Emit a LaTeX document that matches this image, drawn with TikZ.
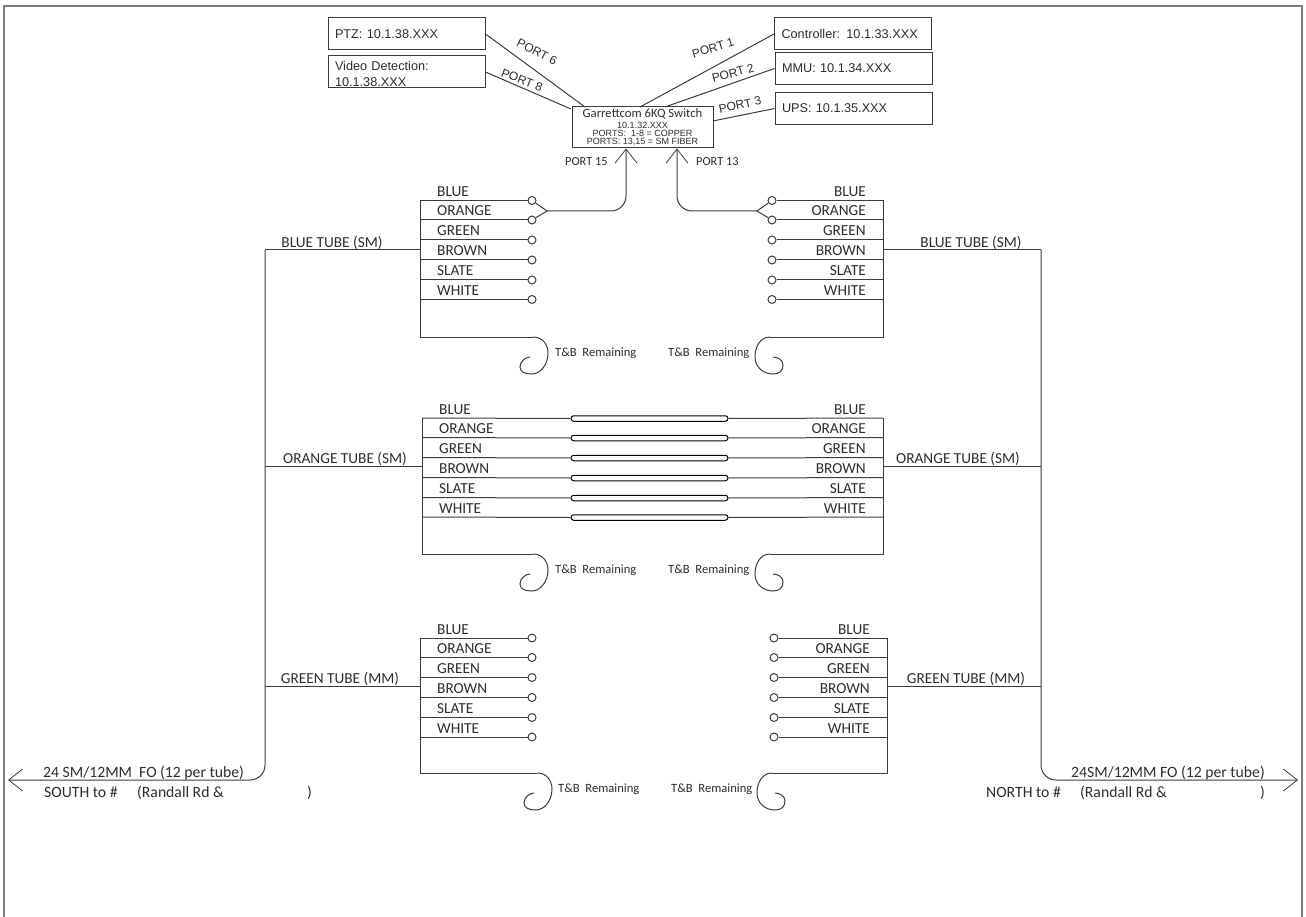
\documentclass[tikz,border=0pt]{standalone}
\usepackage{fontspec}
\setmainfont{Carlito}
\newfontfamily\boxfont{Liberation Sans}
\usetikzlibrary{arrows.meta, positioning, calc}
\definecolor{wiregray}{RGB}{60,60,60}
\definecolor{framegray}{RGB}{125,125,125}
\definecolor{inkgray}{RGB}{45,45,45}

\begin{document}
\begin{tikzpicture}[
    x=1pt, y=-1pt,
    every node/.style={text=inkgray},
    wire/.style={draw=wiregray, line width=1pt},
    openarrow/.style={-{Straight Barb[length=14pt, width=22pt, line width=0.8pt]}},
    devbox/.style={rectangle, draw=wiregray, line width=1pt, minimum width=157pt, minimum height=32pt, inner xsep=7pt, inner ysep=0pt, text width=143pt, align=left, font=\boxfont\fontsize{12.7}{16}\selectfont},
    portlabel/.style={font=\boxfont\fontsize{12}{14}\selectfont, inner sep=0pt},
    sidelabel/.style={font=\fontsize{12.3}{14}\selectfont, anchor=base west, inner sep=0pt},
    fibrelabel/.style={font=\fontsize{15.3}{18}\selectfont, inner sep=0pt},
    tubelabel/.style={font=\fontsize{15.3}{18}\selectfont, anchor=base, inner sep=0pt},
    cablelabel/.style={font=\fontsize{15.7}{18}\selectfont, anchor=base west, inner sep=0pt},
    remainlabel/.style={font=\fontsize{12.6}{15}\selectfont, anchor=base west, inner sep=0pt},
    fibreend/.style={circle, draw=wiregray, line width=1pt, fill=white, minimum size=8pt, inner sep=0pt},
    splice/.style={rectangle, draw=black, line width=1pt, rounded corners=2.7pt, minimum width=157pt, minimum height=5.5pt, inner sep=0pt},
    curlleft/.pic={\draw[wire] (0,0) .. controls (10,0) and (15,8) .. (15,16) .. controls (15,28) and (7,37) .. (-1,37) .. controls (-8,37) and (-13,35) .. (-13,30) .. controls (-13,24) and (-7,20) .. (-3,20);},
    curlright/.pic={\draw[wire] (0,0) .. controls (-10,0) and (-15,10) .. (-15,20) .. controls (-15,30) and (-7,37) .. (3,37) .. controls (9,37) and (13,34) .. (13,28) .. controls (13,23) and (8,20) .. (3,20);}
]
\useasboundingbox (0,0) rectangle (1306,917);

% page frame
\draw[framegray, line width=1.6pt] (4,917) -- (4,6) -- (1302,6) -- (1302,917);

% devices around the switch
\node[devbox] (ptz) at (406.5,34) {PTZ: 10.1.38.XXX};
\node[devbox, font=\boxfont\fontsize{12.7}{15.5}\selectfont] (video) at (406.5,72) {\rule{0pt}{13pt}Video Detection:\\10.1.38.XXX};
\node[devbox] (ctrl) at (853,34) {Controller: 10.1.33.XXX};
\node[devbox] (mmu) at (853.5,68.5) {MMU: 10.1.34.XXX};
\node[devbox] (ups) at (853.5,108.5) {UPS: 10.1.35.XXX};
\node[rectangle, draw=wiregray, line width=1pt, minimum width=141pt, minimum height=41pt, inner sep=0pt, align=center, font=\boxfont\fontsize{9}{8}\selectfont] (switch) at (642.5,127.5) {{\rmfamily\fontsize{12.7}{8}\selectfont Garrettcom 6KQ Switch}\\[3pt]
  10.1.32.XXX\\
  PORTS:\ \ 1-8 = COPPER\\
  PORTS: 13,15 = SM FIBER};

\coordinate (swptz) at (585,107);
\coordinate (swvideo) at (571,109);
\coordinate (swctrl) at (640,107);
\coordinate (swmmu) at (665,107);
\coordinate (swups) at (713,121);
\draw[wire] (ptz.east) -- (swptz);
\draw[wire] (video.east) -- (swvideo);
\draw[wire] (ctrl.west) -- (swctrl);
\draw[wire] (mmu.west) -- (swmmu);
\draw[wire] (ups.west) -- (swups);

\node[portlabel, rotate=-27] (port6) at (537,52) {PORT 6};
\node[portlabel, rotate=-21] (port8) at (522,80) {PORT 8};
\node[portlabel, rotate=17] (port1) at (713,48) {PORT 1};
\node[portlabel, rotate=15] (port2) at (733,73) {PORT 2};
\node[portlabel, rotate=12] (port3) at (740,105) {PORT 3};
\node[sidelabel] (port15) at (565,166) {PORT 15};
\node[sidelabel] (port13) at (696,166) {PORT 13};

% fibre blocks with open ends
\foreach \blk/\xb/\xc/\xl/\anc/\ytop in {tl/420/532/437/base west/200.5, tr/883/772/866/base east/200.5, bl/420/532/437/base west/638, br/887/774/870/base east/638}{
  \foreach \i/\lab/\dy in {1/BLUE/0, 2/ORANGE/19.5, 3/GREEN/39.5, 4/BROWN/59.5, 5/SLATE/79.5, 6/WHITE/99}{
    \coordinate (\blk t\i) at (\xb,\ytop+\dy);
    \node[fibreend] (\blk c\i) at (\xc,\ytop+\dy) {};
    \node[fibrelabel, anchor=\anc] (\blk l\i) at (\xl,\ytop+\dy-4) {\lab};
    \draw[wire] (\blk t\i) -- (\blk c\i);
  }
}

% spliced block
\foreach \i/\lab/\dy in {1/BLUE/0, 2/ORANGE/19.5, 3/GREEN/39.5, 4/BROWN/59.5, 5/SLATE/79.5, 6/WHITE/99}{
  \coordinate (mlt\i) at (422,418+\dy);
  \coordinate (mrt\i) at (883,418+\dy);
  \node[splice] (sp\i) at (649.5,418.5+\dy) {};
  \node[fibrelabel, anchor=base west] (mll\i) at (439,414+\dy) {\lab};
  \node[fibrelabel, anchor=base east] (mrl\i) at (866,414+\dy) {\lab};
  \draw[wire] (mlt\i) -- (sp\i.west);
  \draw[wire] (sp\i.east) -- (mrt\i);
}

% buffer tubes with the coiled remainder
\coordinate (tlend) at (533,337);
\coordinate (trend) at (770,337);
\coordinate (mlend) at (533,554);
\coordinate (mrend) at (770,554);
\coordinate (blend) at (537,773);
\coordinate (brend) at (772,773);
\draw[wire] (tlt1) -- (tlend -| tlt1) -- (tlend);
\draw[wire] (trt1) -- (trend -| trt1) -- (trend);
\draw[wire] (mlt1) -- (mlend -| mlt1) -- (mlend);
\draw[wire] (mrt1) -- (mrend -| mrt1) -- (mrend);
\draw[wire] (blt1) -- (blend -| blt1) -- (blend);
\draw[wire] (brt1) -- (brend -| brt1) -- (brend);
\pic at (tlend) {curlleft};
\pic at (trend) {curlright};
\pic at (mlend) {curlleft};
\pic at (mrend) {curlright};
\pic at (blend) {curlleft};
\pic at (brend) {curlright};

\node[remainlabel] (remtl) at (555,356) {T\&B\ \ Remaining};
\node[remainlabel] (remtr) at (668,356) {T\&B\ \ Remaining};
\node[remainlabel] (remml) at (555,573) {T\&B\ \ Remaining};
\node[remainlabel] (remmr) at (668,573) {T\&B\ \ Remaining};
\node[remainlabel] (rembl) at (558,792) {T\&B\ \ Remaining};
\node[remainlabel] (rembr) at (671,792) {T\&B\ \ Remaining};

% fibres up to the switch
\coordinate (forkl) at (547,211);
\coordinate (forkr) at (757,211);
\coordinate (tipl) at (626,148.5);
\coordinate (tipr) at (677,148.5);
\draw[wire] (tlc1) -- (forkl) -- (tlc2);
\draw[wire] (trc1) -- (forkr) -- (trc2);
\draw[wire, openarrow, rounded corners=15pt] (forkl) -- (forkl -| tipl) -- (tipl);
\draw[wire, openarrow, rounded corners=15pt] (forkr) -- (forkr -| tipr) -- (tipr);

% main cable, both directions
\coordinate (lblue) at (265,250);
\coordinate (lorange) at (265,466.5);
\coordinate (lgreen) at (265,686);
\coordinate (rblue) at (1041,250);
\coordinate (rorange) at (1041,466.5);
\coordinate (rgreen) at (1041,686);
\coordinate (south) at (8,780);
\coordinate (north) at (1298,780);
\draw[wire] (tlt1 |- lblue) -- (lblue);
\draw[wire] (trt1 |- rblue) -- (rblue);
\draw[wire, openarrow, rounded corners=15pt] (lblue) -- (lblue |- south) -- (south);
\draw[wire, openarrow, rounded corners=15pt] (rblue) -- (rblue |- north) -- (north);
\draw[wire] (lorange) -- (mlt1 |- lorange);
\draw[wire] (rorange) -- (mrt1 |- rorange);
\draw[wire] (lgreen) -- (blt1 |- lgreen);
\draw[wire] (rgreen) -- (brt1 |- rgreen);

\node[tubelabel] (tubelb) at (332,247.5) {BLUE TUBE (SM)};
\node[tubelabel] (tuberb) at (971,247.5) {BLUE TUBE (SM)};
\node[tubelabel] (tubelo) at (345,463) {ORANGE TUBE (SM)};
\node[tubelabel] (tubero) at (958,463) {ORANGE TUBE (SM)};
\node[tubelabel] (tubelg) at (340,683) {GREEN TUBE (MM)};
\node[tubelabel] (tuberg) at (966,683) {GREEN TUBE (MM)};

\node[cablelabel] (cables) at (43,777) {24 SM/12MM\ \ FO (12 per tube)};
\node[cablelabel] (souths) at (44,797) {SOUTH to \#};
\node[cablelabel] (roads) at (137,797) {(Randall Rd \&};
\node[cablelabel] (closes) at (307,797) {)};
\node[cablelabel] (cablen) at (1071,777) {24SM/12MM FO (12 per tube)};
\node[cablelabel] (northn) at (986,797) {NORTH to \#};
\node[cablelabel] (roadn) at (1080,797) {(Randall Rd \&};
\node[cablelabel] (closen) at (1260,797) {)};

\end{tikzpicture}
\end{document}
